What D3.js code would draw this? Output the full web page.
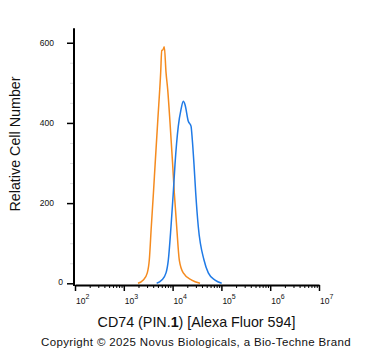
<!DOCTYPE html>
<html>
<head>
<meta charset="utf-8">
<script src="https://cdn.jsdelivr.net/npm/d3@7"></script>
<style>
  body { margin: 0; background: #fff; }
  text { font-family: "Liberation Sans", Arial, sans-serif; fill: #111; }
</style>
</head>
<body>
<div id="chart"></div>
<script>
// fluorescence intensity (x) and cell counts (y)
const isoX = [1950, 2510, 3030, 3330, 3660, 4050, 4380, 4980, 5700, 5990, 6300, 6760, 7330, 7940, 8850, 9950, 10840, 12130, 13720, 16560, 24600, 36400];
const isoY = [0, 8, 26, 58, 141, 226, 296, 408, 526, 581, 582, 590, 526, 483, 401, 303, 226, 141, 58, 26, 8, 0];

const cd74X = [4720, 5990, 7330, 8170, 9270, 10330, 11190, 13090, 14850, 16560, 17930, 20990, 23840, 25340, 27470, 29730, 33620, 43990, 53900, 74000, 101400];
const cd74Y = [0, 8, 26, 58, 141, 226, 296, 392, 433, 454, 446, 404, 392, 358, 296, 226, 141, 58, 26, 8, 0];

const yTicks = [0, 200, 400, 600];
const yMinor = [50, 100, 150, 250, 300, 350, 450, 500, 550];
const xDecades = [2, 3, 4, 5, 6, 7];

const width = 371, height = 351;

const svg = d3.select("#chart").append("svg")
  .attr("width", width)
  .attr("height", height);

const x = d3.scaleLog().domain([1e2, 1e7]).range([75, 319]);
const y = d3.scaleLinear().domain([0, 636]).range([283.3, 28.3]);
const xAxisY = 285;

// minor ticks for the log axis
const xMinor = [];
xDecades.slice(0, -1).forEach(p => {
  for (let k = 2; k <= 9; k++) xMinor.push(k * Math.pow(10, p));
});

// histograms
const line = d3.line()
  .x(d => x(d[0]))
  .y(d => y(d[1]))
  .curve(d3.curveMonotoneX);

svg.append("path")
  .datum(d3.zip(isoX, isoY))
  .attr("d", line)
  .attr("fill", "none")
  .attr("stroke", "#f58b1f")
  .attr("stroke-width", 1.5);

svg.append("path")
  .datum(d3.zip(cd74X, cd74Y))
  .attr("d", line)
  .attr("fill", "none")
  .attr("stroke", "#1f7ae6")
  .attr("stroke-width", 1.5);

// x axis
const gx = svg.append("g").attr("transform", `translate(0,${xAxisY})`);
gx.call(d3.axisBottom(x).tickValues(xMinor).tickSize(3).tickFormat(""))
  .call(g => g.select(".domain").remove());
gx.append("g")
  .call(d3.axisBottom(x).tickValues(xDecades.map(p => Math.pow(10, p))).tickSize(6).tickSizeOuter(0).tickFormat(""))
  .call(g => g.select(".domain").attr("stroke-width", 2))
  .call(g => g.selectAll(".tick line").attr("stroke-width", 1.5));
gx.selectAll(".tick line").attr("stroke", "#000");

const xl = svg.append("g");
xDecades.forEach(p => {
  const t = xl.append("text")
    .attr("x", x(Math.pow(10, p)) + 1)
    .attr("y", 304)
    .attr("font-size", 8.5);
  t.append("tspan").text("10");
  t.append("tspan").attr("dy", -5).attr("font-size", 7).text(p);
});

// y axis
const gy = svg.append("g").attr("transform", "translate(74,0)");
gy.append("g")
  .call(d3.axisLeft(y).tickValues(yMinor).tickSize(4).tickFormat(""))
  .call(g => g.select(".domain").remove())
  .call(g => g.selectAll(".tick line").attr("stroke", "#ddd"));
gy.append("g")
  .call(d3.axisLeft(y).tickValues(yTicks).tickSize(7).tickPadding(13))
  .call(g => g.select(".domain").remove())
  .call(g => g.selectAll(".tick line").attr("stroke", "#000").attr("stroke-width", 1.5))
  .call(g => g.selectAll(".tick text")
    .attr("font-size", 8.5)
    .attr("fill", "#111")
    .attr("font-family", "Liberation Sans, Arial, sans-serif")
    .attr("dx", d => d === 0 ? 9 : 0)
    .attr("dy", d => d === 0 ? "0.1em" : "0.32em"));
gy.append("line")
  .attr("x1", 0).attr("x2", 0)
  .attr("y1", y.range()[1]).attr("y2", xAxisY + 1)
  .attr("stroke", "#000")
  .attr("stroke-width", 2);

// titles
const xt = svg.append("text")
  .attr("x", 196.5)
  .attr("y", 327)
  .attr("text-anchor", "middle")
  .attr("font-size", 14.3);
xt.append("tspan").text("CD74 (PIN.");
xt.append("tspan").attr("font-weight", "bold").text("1");
xt.append("tspan").text(") [Alexa Fluor 594]");

svg.append("text")
  .attr("transform", "translate(20,144) rotate(-90)")
  .attr("text-anchor", "middle")
  .attr("font-size", 14.3)
  .text("Relative Cell Number");

svg.append("text")
  .attr("x", 196)
  .attr("y", 346)
  .attr("text-anchor", "middle")
  .attr("font-size", 11.5)
  .attr("letter-spacing", 0.35)
  .text("Copyright \u00A9 2025 Novus Biologicals, a Bio-Techne Brand");
</script>
</body>
</html>
